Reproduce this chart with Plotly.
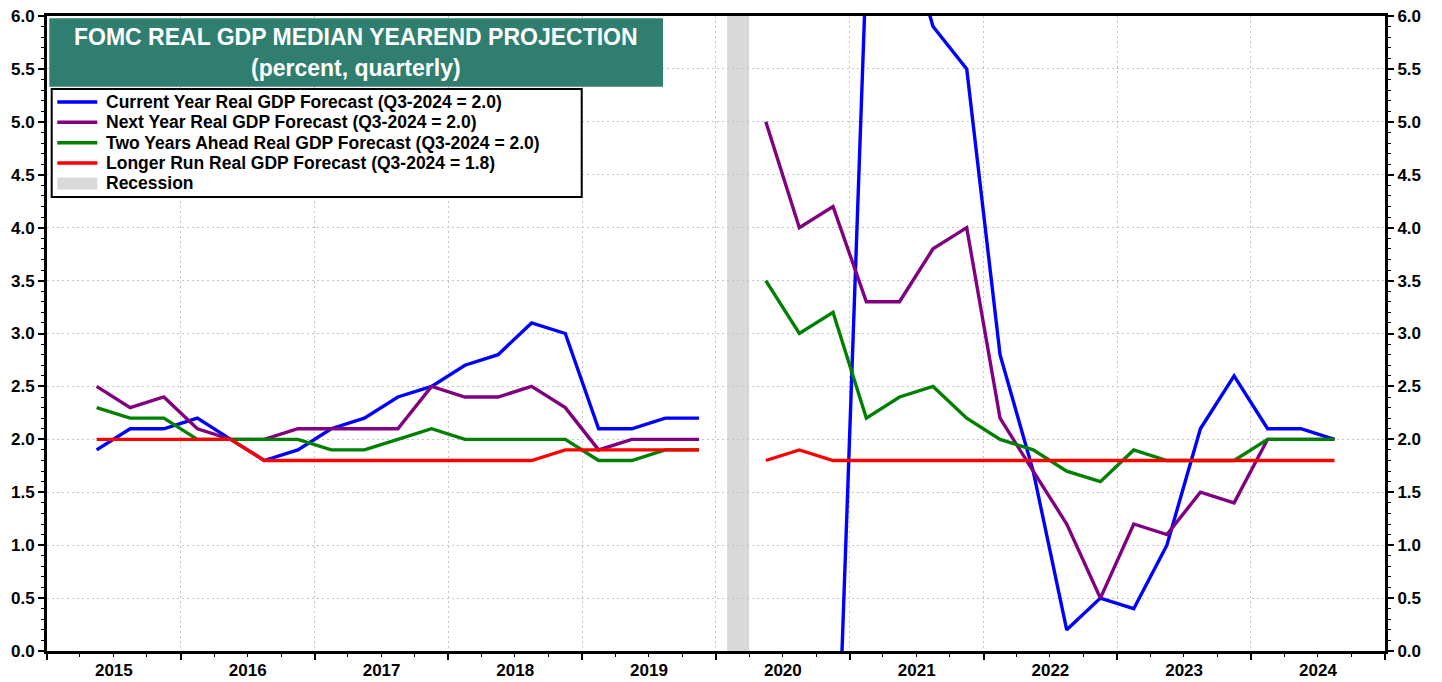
import plotly.graph_objects as go
import pandas as pd

# ---------------- data ----------------
quarter_start = "2015Q2"
quarter_end = "2024Q3"

current_year = [1.9, 2.1, 2.1, 2.2, 2.0, 1.8, 1.9, 2.1, 2.2, 2.4, 2.5, 2.7, 2.8, 3.1, 3.0, 2.1, 2.1, 2.2, 2.2,
                None,
                -6.5, -3.7, -2.4, 6.5, 7.0, 5.9, 5.5, 2.8, 1.7, 0.2, 0.5, 0.4, 1.0, 2.1, 2.6, 2.1, 2.1, 2.0]
next_year = [2.5, 2.3, 2.4, 2.1, 2.0, 2.0, 2.1, 2.1, 2.1, 2.1, 2.5, 2.4, 2.4, 2.5, 2.3, 1.9, 2.0, 2.0, 2.0,
             None,
             5.0, 4.0, 4.2, 3.3, 3.3, 3.8, 4.0, 2.2, 1.7, 1.2, 0.5, 1.2, 1.1, 1.5, 1.4, 2.0, 2.0, 2.0]
two_years = [2.3, 2.2, 2.2, 2.0, 2.0, 2.0, 2.0, 1.9, 1.9, 2.0, 2.1, 2.0, 2.0, 2.0, 2.0, 1.8, 1.8, 1.9, 1.9,
             None,
             3.5, 3.0, 3.2, 2.2, 2.4, 2.5, 2.2, 2.0, 1.9, 1.7, 1.6, 1.9, 1.8, 1.8, 1.8, 2.0, 2.0, 2.0]
longer_run = [2.0, 2.0, 2.0, 2.0, 2.0, 1.8, 1.8, 1.8, 1.8, 1.8, 1.8, 1.8, 1.8, 1.8, 1.9, 1.9, 1.9, 1.9, 1.9,
              None,
              1.8, 1.9, 1.8, 1.8, 1.8, 1.8, 1.8, 1.8, 1.8, 1.8, 1.8, 1.8, 1.8, 1.8, 1.8, 1.8, 1.8, 1.8]

recession_start = "2020-02-01"
recession_end = "2020-04-01"

series_names = ["Current Year Real GDP Forecast",
                "Next Year Real GDP Forecast",
                "Two Years Ahead Real GDP Forecast",
                "Longer Run Real GDP Forecast"]
series_colors = ["#0000FF", "#800080", "#008000", "#FF0000"]
last_label = "Q3-2024"

title_line1 = "FOMC REAL GDP MEDIAN YEAREND PROJECTION"
title_line2 = "(percent, quarterly)"

# quarter mid-points for the x axis
periods = pd.period_range(quarter_start, quarter_end, freq="Q")
x_dates = [p.start_time + (p.end_time - p.start_time) / 2 for p in periods]

# ---------------- layout constants ----------------
W, H = 1442, 682
ML, MR, MT, MB = 47, 57, 16, 31
PW = W - ML - MR
PH = H - MT - MB


def px(x):
    return (x - ML) / PW


def py(y):
    return (H - MB - y) / PH


FONT = "Arial, 'Liberation Sans', sans-serif"

fig = go.Figure()

all_series = [current_year, next_year, two_years, longer_run]
for i, (vals, name, col) in enumerate(zip(all_series, series_names, series_colors)):
    fig.add_trace(go.Scatter(
        x=x_dates, y=vals, mode="lines", name=name,
        line=dict(color=col, width=3.4),
        yaxis="y2" if i == 3 else "y",
        showlegend=False,
    ))

shapes = []
# recession band
shapes.append(dict(type="rect", xref="x", yref="paper",
                   x0=recession_start, x1=recession_end, y0=0, y1=1,
                   fillcolor="#D9D9D9", line=dict(width=0), layer="between"))
# title box
shapes.append(dict(type="rect", xref="paper", yref="paper",
                   x0=px(49.3), x1=px(663), y0=py(86.7), y1=py(18.3),
                   fillcolor="#2F7E70", line=dict(width=0), layer="above"))
# legend box
shapes.append(dict(type="rect", xref="paper", yref="paper",
                   x0=px(51.7), x1=px(581.7), y0=py(197), y1=py(89),
                   fillcolor="white", line=dict(color="black", width=2), layer="above"))

annotations = [
    dict(xref="paper", yref="paper", x=px(356), y=py(37), text=title_line1,
         showarrow=False, xanchor="center", yanchor="middle",
         font=dict(family=FONT, size=23, color="white", weight="bold")),
    dict(xref="paper", yref="paper", x=px(356), y=py(68.5), text=title_line2,
         showarrow=False, xanchor="center", yanchor="middle",
         font=dict(family=FONT, size=23, color="white", weight="bold")),
]

row_y = [101.9, 122.3, 142.7, 163.1, 183.5]
for i, (vals, name, col) in enumerate(zip(all_series, series_names, series_colors)):
    yy = py(row_y[i])
    shapes.append(dict(type="line", xref="paper", yref="paper",
                       x0=px(57.3), x1=px(97.3), y0=yy, y1=yy,
                       line=dict(color=col, width=3.5), layer="above"))
    annotations.append(dict(xref="paper", yref="paper", x=px(104), y=yy,
                            text=f"{name} ({last_label} = {vals[-1]:.1f})",
                            showarrow=False, xanchor="left", yanchor="middle",
                            font=dict(family=FONT, size=17.5, color="black", weight="bold")))
# recession legend entry
shapes.append(dict(type="rect", xref="paper", yref="paper",
                   x0=px(57.3), x1=px(97.3), y0=py(row_y[4] + 6), y1=py(row_y[4] - 6),
                   fillcolor="#D9D9D9", line=dict(width=0), layer="above"))
annotations.append(dict(xref="paper", yref="paper", x=px(104), y=py(row_y[4]),
                        text="Recession", showarrow=False, xanchor="left", yanchor="middle",
                        font=dict(family=FONT, size=17.5, color="black", weight="bold")))

tickfont = dict(family=FONT, size=17, color="black", weight="bold")
grid = dict(showgrid=True, gridcolor="#C4C4C4", griddash="2px,3px", gridwidth=1.2)

fig.update_layout(
    width=W, height=H,
    margin=dict(l=ML, r=MR, t=MT, b=MB, pad=0, autoexpand=False),
    paper_bgcolor="white", plot_bgcolor="white",
    showlegend=False,
    shapes=shapes, annotations=annotations,
    xaxis=dict(type="date", range=["2015-01-01", "2025-01-01"], automargin=False,
               tick0="2015-01-01", dtick="M12", tickformat="%Y", ticklabelmode="period",
               ticks="outside", ticklen=6, tickwidth=1.5, tickcolor="black",
               ticklabelstandoff=-4,
               showline=True, linecolor="black", linewidth=3, mirror=True,
               tickfont=tickfont,
               minor=dict(dtick="M3", tick0="2015-01-01", ticks="outside", ticklen=3,
                          tickwidth=1.2, tickcolor="black", showgrid=False),
               **grid),
    yaxis=dict(range=[0, 6], dtick=0.5, tick0=0, tickformat=".1f", automargin=False,
               ticks="outside", ticklen=6, tickwidth=1.5, tickcolor="black",
               showline=True, linecolor="black", linewidth=3, zeroline=False,
               tickfont=tickfont,
               minor=dict(dtick=0.1, ticks="outside", ticklen=3, tickwidth=1,
                          tickcolor="black", showgrid=False),
               **grid),
    yaxis2=dict(range=[0, 6], dtick=0.5, tick0=0, tickformat=".1f", overlaying="y", side="right",
                automargin=False,
                ticks="outside", ticklen=6, tickwidth=1.5, tickcolor="black",
                showline=True, linecolor="black", linewidth=3, zeroline=False, showgrid=False,
                tickfont=tickfont,
                minor=dict(dtick=0.1, ticks="outside", ticklen=3, tickwidth=1,
                           tickcolor="black", showgrid=False)),
)

fig.write_html("out.html", config={"displayModeBar": False},
               post_script="document.body.style.margin='0';")
